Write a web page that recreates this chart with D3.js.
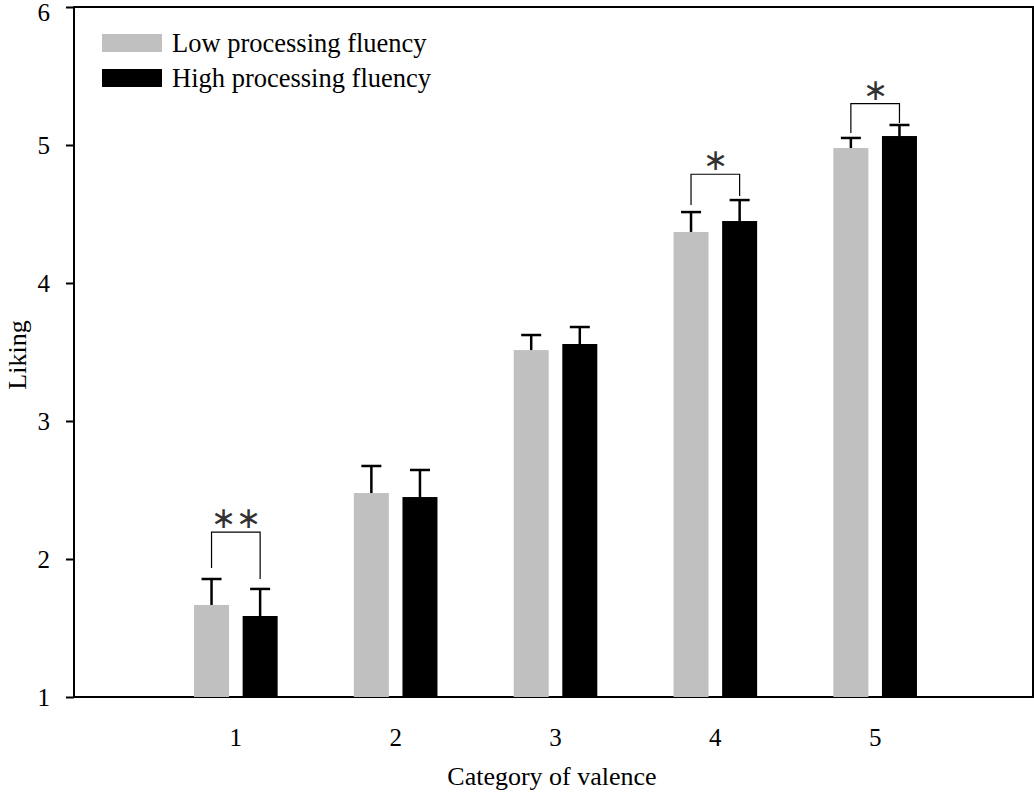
<!DOCTYPE html>
<html><head><meta charset="utf-8">
<script src="https://cdn.jsdelivr.net/npm/d3@7"></script>
<style>body{margin:0;background:#fff}</style>
</head><body>
<svg id="c" width="1034" height="792"></svg>
<script>
const categories = ["1","2","3","4","5"];
const seriesNames = ["Low processing fluency","High processing fluency"];
const lowMeans = [1.667,2.478,3.514,4.37,4.978];
const lowErr   = [0.188,0.196,0.109,0.144,0.073];
const highMeans= [1.587,2.449,3.558,4.449,5.065];
const highErr  = [0.196,0.196,0.123,0.152,0.080];
const yTicks = [1,2,3,4,5,6];
const sig = [{cat:0,label:"∗∗",top:2.195,lowEnd:1.935,highEnd:1.855},
             {cat:3,label:"∗",top:4.788,lowEnd:4.565,highEnd:4.63},
             {cat:4,label:"∗",top:5.30,lowEnd:5.087,highEnd:5.16}];
const colors = ["#c0c0c0","#000000"];

const svg = d3.select("#c");
const L=74,R=1033,T=7,B=697;
const y = d3.scaleLinear().domain([1,6]).range([B,T]);
const x = d3.scaleLinear().domain([0,6]).range([L+2,R+2]);
const font = "'Liberation Serif','Times New Roman',serif";
const bw=35, off=24.3;

// frame
svg.append("rect").attr("x",L).attr("y",T).attr("width",R-L).attr("height",B-T)
  .attr("fill","none").attr("stroke","#000").attr("stroke-width",2);

// y axis
const ya = svg.append("g").attr("transform",`translate(${L},0)`)
  .call(d3.axisLeft(y).tickValues(yTicks).tickFormat(d3.format("d")).tickSize(8).tickPadding(16));
ya.select(".domain").remove();
ya.selectAll("line").attr("stroke","#000").attr("stroke-width",2);
ya.selectAll("text").attr("font-family",font).attr("font-size",25).attr("fill","#000")
  .attr("dy",(d)=>d===6?"0.55em":"0.32em");

// x labels
svg.selectAll(".xl").data(categories).enter().append("text")
  .attr("x",(d,i)=>x(i+1)).attr("y",746).attr("text-anchor","middle")
  .attr("font-family",font).attr("font-size",25).text(d=>d);

const series=[lowMeans,highMeans], errs=[lowErr,highErr];
series.forEach((s,k)=>{
  const dx = k===0?-off:off;
  svg.selectAll(".b"+k).data(s).enter().append("rect")
    .attr("x",(d,i)=>x(i+1)+dx-bw/2).attr("width",bw)
    .attr("y",d=>y(d)).attr("height",d=>B-y(d)).attr("fill",colors[k]);
  svg.selectAll(".e"+k).data(s).enter().append("line")
    .attr("x1",(d,i)=>x(i+1)+dx).attr("x2",(d,i)=>x(i+1)+dx)
    .attr("y1",d=>y(d)).attr("y2",(d,i)=>y(d+errs[k][i])).attr("stroke","#000").attr("stroke-width",2.5);
  svg.selectAll(".c"+k).data(s).enter().append("line")
    .attr("x1",(d,i)=>x(i+1)+dx-10).attr("x2",(d,i)=>x(i+1)+dx+10)
    .attr("y1",(d,i)=>y(d+errs[k][i])).attr("y2",(d,i)=>y(d+errs[k][i])).attr("stroke","#000").attr("stroke-width",2.5);
});

// significance
sig.forEach(s=>{
  const cx=x(s.cat+1), xl=cx-off, xr=cx+off;
  svg.append("path").attr("d",`M${xl},${y(s.lowEnd)}V${y(s.top)}H${xr}V${y(s.highEnd)}`)
    .attr("fill","none").attr("stroke","#000").attr("stroke-width",1.2);
  svg.append("text").attr("x",cx).attr("y",y(s.top)-4).attr("text-anchor","middle")
    .attr("font-family","'Liberation Serif',serif").attr("font-size",30).attr("fill","#333").text(s.label);
});

// legend
seriesNames.forEach((n,k)=>{
  svg.append("rect").attr("x",102).attr("y",34+k*35).attr("width",60).attr("height",18).attr("fill",colors[k]);
  svg.append("text").attr("x",172).attr("y",52+k*35).attr("font-family",font).attr("font-size",26.5).text(n);
});

// axis titles
svg.append("text").attr("x",552).attr("y",785).attr("text-anchor","middle")
  .attr("font-family",font).attr("font-size",26).text("Category of valence");
svg.append("text").attr("transform","translate(26,355) rotate(-90)").attr("text-anchor","middle")
  .attr("font-family",font).attr("font-size",26).text("Liking");
</script>
</body></html>
